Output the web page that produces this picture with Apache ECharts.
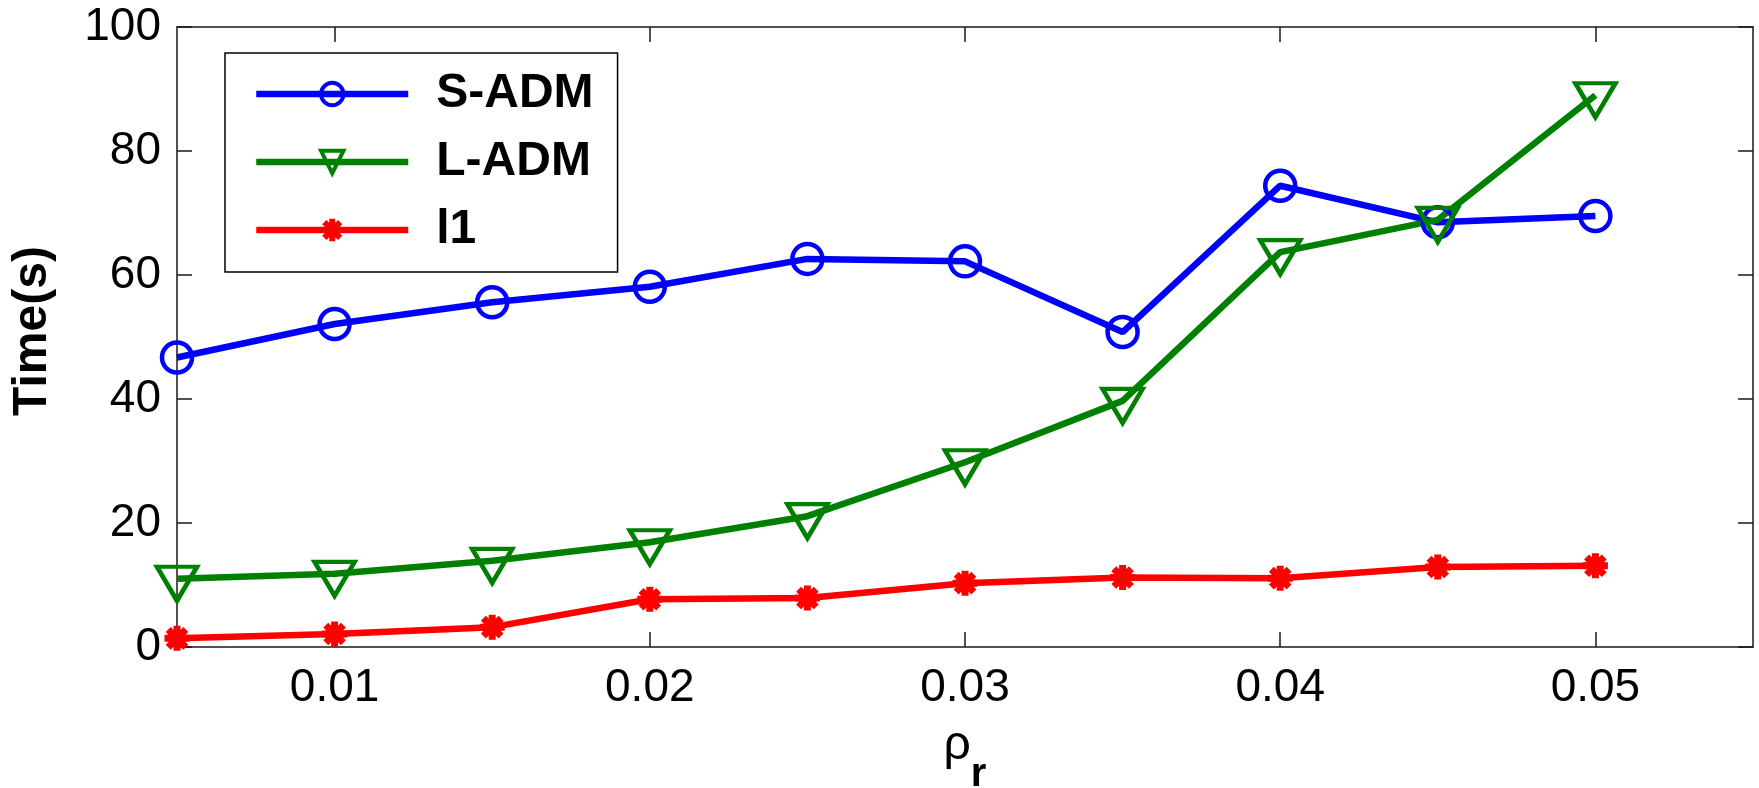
<!DOCTYPE html>
<html>
<head>
<meta charset="utf-8">
<script src="https://cdn.jsdelivr.net/npm/echarts@6/dist/echarts.min.js"></script>
<style>
html,body{margin:0;padding:0;background:#fff;}
#chart{width:1759px;height:788px;}
</style>
</head>
<body>
<div id="chart"></div>
<script>
// ---- data ----
const xValues = [0.005, 0.01, 0.015, 0.02, 0.025, 0.03, 0.035, 0.04, 0.045, 0.05];
const sAdm = [46.7, 52.1, 55.6, 58.1, 62.6, 62.2, 50.8, 74.4, 68.5, 69.5];
const lAdm = [11.0, 11.8, 13.9, 16.9, 21.1, 29.8, 39.7, 63.7, 68.9, 89.0];
const l1 = [1.4, 2.1, 3.2, 7.7, 7.9, 10.3, 11.2, 11.1, 12.9, 13.1];
const xTicks = [0.01, 0.02, 0.03, 0.04, 0.05];
const seriesNames = ['S-ADM', 'L-ADM', 'l1'];
const xName = ['ρ', 'r'];
const yName = 'Time(s)';

const pairs = ys => xValues.map((x, i) => [x, ys[i]]);
const FONT = '"Liberation Sans", Arial, Helvetica, sans-serif';
const AXIS_COLOR = '#1a1a1a';

const chart = echarts.init(document.getElementById('chart'), null, {renderer: 'canvas'});

const commonX = {
  type: 'value', min: 0.005, max: 0.055,
  axisLine: {show: true, onZero: false, lineStyle: {color: AXIS_COLOR, width: 1.5}},
  splitLine: {show: false}
};
const commonY = {
  type: 'value', min: 0, max: 100, interval: 20,
  axisLine: {show: true, onZero: false, lineStyle: {color: AXIS_COLOR, width: 1.5}},
  splitLine: {show: false}
};

const option = {
  animation: false,
  backgroundColor: '#fff',
  grid: {left: 177, right: 6, top: 27, bottom: 141, containLabel: false, outerBoundsMode: 'none'},
  legend: {
    data: [
      {name: seriesNames[0], itemStyle: {borderWidth: 4}},
      {name: seriesNames[1], itemStyle: {borderWidth: 4}},
      {name: seriesNames[2], itemStyle: {borderWidth: 6}}
    ],
    orient: 'vertical',
    left: 225, top: 53,
    backgroundColor: '#fff',
    borderColor: '#000', borderWidth: 1.5,
    padding: [17, 24, 18, 28],
    itemWidth: 152, itemHeight: 28, itemGap: 20,
    selectedMode: false,
    lineStyle: {width: 6.5},
    textStyle: {fontFamily: FONT, fontSize: 48, fontWeight: 'bold', color: '#000', lineHeight: 48, padding: [0, 0, 0, 23]}
  },
  xAxis: [
    Object.assign({}, commonX, {
      position: 'bottom',
      axisTick: {show: true, inside: true, length: 15, customValues: xTicks, lineStyle: {color: AXIS_COLOR, width: 1.5}},
      axisLabel: {show: true, customValues: xTicks, margin: 18, fontFamily: FONT, fontSize: 46, color: '#000',
        formatter: v => v.toFixed(2)},
      name: '{a|' + xName[0] + '}{b|' + xName[1] + '}',
      nameLocation: 'middle', nameGap: 75,
      nameTextStyle: {
        rich: {
          a: {fontFamily: FONT, fontSize: 48, lineHeight: 73, verticalAlign: 'top', color: '#000'},
          b: {fontFamily: FONT, fontSize: 40, fontWeight: 'bold', lineHeight: 40, verticalAlign: 'bottom', color: '#000'}
        }
      }
    }),
    Object.assign({}, commonX, {
      position: 'top',
      axisTick: {show: true, inside: true, length: 15, customValues: xTicks, lineStyle: {color: AXIS_COLOR, width: 1.5}},
      axisLabel: {show: false}
    })
  ],
  yAxis: [
    Object.assign({}, commonY, {
      position: 'left',
      axisTick: {show: true, inside: true, length: 15, lineStyle: {color: AXIS_COLOR, width: 1.5}},
      axisLabel: {show: true, margin: 16, fontFamily: FONT, fontSize: 46, color: '#000'},
      name: yName, nameLocation: 'middle', nameGap: 120, nameRotate: 90,
      nameTextStyle: {fontFamily: FONT, fontSize: 48, fontWeight: 'bold', color: '#000', padding: [0, 0, 0, 12]}
    }),
    Object.assign({}, commonY, {
      position: 'right',
      axisTick: {show: true, inside: true, length: 15, lineStyle: {color: AXIS_COLOR, width: 1.5}},
      axisLabel: {show: false}
    })
  ],
  series: [
    {
      name: seriesNames[0], type: 'line', data: pairs(sAdm),
      symbol: 'circle', symbolSize: 30,
      lineStyle: {color: '#0000ff', width: 6.5},
      itemStyle: {color: 'rgba(0,0,0,0)', borderColor: '#0000ff', borderWidth: 4.5},
      emphasis: {disabled: true}
    },
    {
      name: seriesNames[1], type: 'line', data: pairs(lAdm),
      symbol: 'path://M0,0L20,0L10,17Z', symbolSize: [40, 34], symbolOffset: [0, 5],
      lineStyle: {color: '#008000', width: 6.5},
      itemStyle: {color: 'rgba(0,0,0,0)', borderColor: '#008000', borderWidth: 4.5},
      emphasis: {disabled: true}
    },
    {
      name: seriesNames[2], type: 'line', data: pairs(l1),
      symbol: 'path://M0,-10L0,10M-10,0L10,0M-7.07,-7.07L7.07,7.07M-7.07,7.07L7.07,-7.07', symbolSize: 25,
      lineStyle: {color: '#ff0000', width: 6.5},
      itemStyle: {color: '#ff0000', borderColor: '#ff0000', borderWidth: 7},
      emphasis: {disabled: true}
    }
  ]
};
chart.setOption(option);
</script>
</body>
</html>
